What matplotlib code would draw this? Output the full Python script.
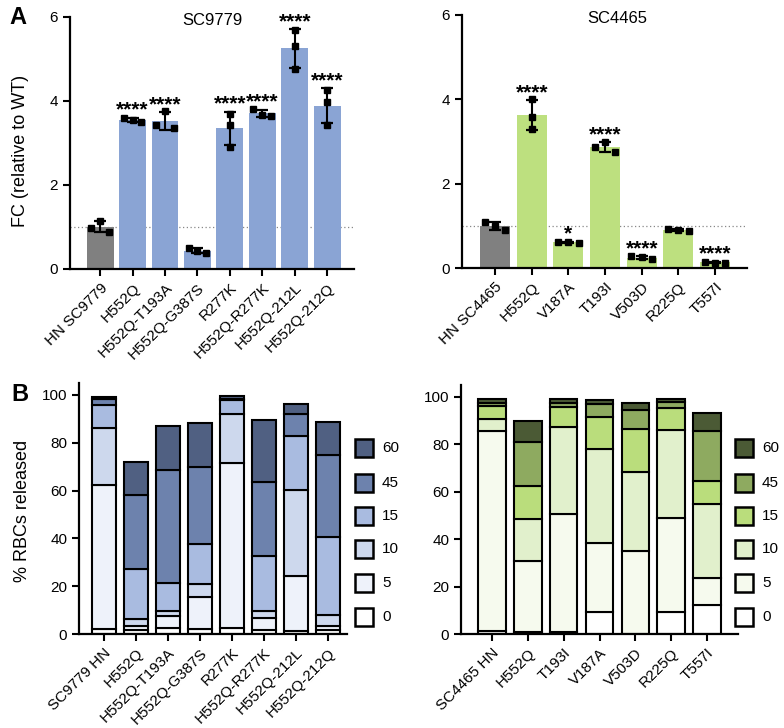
import numpy as np
import matplotlib
matplotlib.use("Agg")
import matplotlib.pyplot as plt
from matplotlib.patches import Rectangle

plt.rcParams['font.family'] = ['Liberation Sans', 'DejaVu Sans']

# ---------------- data : panel A ----------------
sc9779_labels = ["HN SC9779", "H552Q", "H552Q-T193A", "H552Q-G387S",
                 "R277K", "H552Q-R277K", "H552Q-212L", "H552Q-212Q"]
sc9779_reps = [[0.97, 1.15, 0.89],
               [3.60, 3.55, 3.51],
               [3.44, 3.76, 3.35],
               [0.50, 0.44, 0.38],
               [3.70, 3.43, 2.91],
               [3.81, 3.67, 3.65],
               [5.68, 5.31, 4.77],
               [4.26, 3.97, 3.43]]
sc9779_stars = ["", "****", "****", "", "****", "****", "****", "****"]

sc4465_labels = ["HN SC4465", "H552Q", "V187A", "T193I", "V503D", "R225Q", "T557I"]
sc4465_reps = [[1.09, 1.00, 0.91],
               [4.00, 3.57, 3.29],
               [0.62, 0.61, 0.59],
               [2.87, 2.98, 2.76],
               [0.28, 0.25, 0.21],
               [0.92, 0.91, 0.88],
               [0.15, 0.13, 0.13]]
sc4465_stars = ["", "****", "*", "****", "****", "", "****"]

# horizontal spread of replicate points (layout only: -1 left, 0 centre, 1 right)
sc9779_spread = [[-1, 0, 1], [-1, 0, 1], [-1, 0, 1], [-1, 0, 1],
                 [0, 0, 0], [-1, 0, 1], [0, 0, 0], [0, 0, 0]]
sc4465_spread = [[-1, 0, 1], [0, 0, 0], [-1, 0, 1], [-1, 0, 1],
                 [-1, 0, 1], [-1, 0, 1], [-1, 0, 1]]

# ---------------- data : panel B (cumulative % RBCs released) ----------------
time_levels = ["0", "5", "10", "15", "45", "60"]

b9779_labels = ["SC9779 HN", "H552Q", "H552Q-T193A", "H552Q-G387S",
                "R277K", "H552Q-R277K", "H552Q-212L", "H552Q-212Q"]
b9779_cum_0 = [2.1, 1.5, 2.6, 2.1, 2.6, 1.7, 1.2, 1.5]
b9779_cum_5 = [62.3, 3.3, 7.4, 15.6, 71.4, 6.8, 24.3, 3.3]
b9779_cum_10 = [86.3, 6.1, 9.5, 20.9, 92.0, 9.8, 60.3, 7.9]
b9779_cum_15 = [96.0, 27.2, 21.5, 37.5, 97.8, 32.8, 82.8, 40.7]
b9779_cum_45 = [98.2, 58.2, 68.6, 70.0, 98.5, 63.5, 92.0, 74.8]
b9779_cum_60 = [99.3, 72.1, 87.0, 88.1, 99.6, 89.5, 96.2, 88.8]

b4465_labels = ["SC4465 HN", "H552Q", "T193I", "V187A", "V503D", "R225Q", "T557I"]
b4465_cum_0 = [1.4, 1.0, 1.0, 9.1, 0.0, 9.1, 12.2]
b4465_cum_5 = [85.4, 30.7, 50.6, 38.5, 34.9, 48.8, 23.5]
b4465_cum_10 = [90.7, 48.4, 87.2, 78.2, 68.2, 86.1, 54.9]
b4465_cum_15 = [96.3, 62.6, 95.6, 91.7, 86.4, 95.2, 64.7]
b4465_cum_45 = [97.4, 80.9, 97.6, 97.0, 94.5, 98.0, 85.4]
b4465_cum_60 = [99.0, 90.0, 99.0, 98.5, 97.6, 99.0, 93.4]

blue_levels = ["#ffffff", "#eef2fa", "#cdd8ed", "#a9bbe0", "#6d82ad", "#506082"]
green_levels = ["#ffffff", "#f6faee", "#e1f0cc", "#badd7c", "#8eaa60", "#4b5a35"]

# ---------------- figure ----------------
W, H = 784, 728
fig = plt.figure(figsize=(W / 100, H / 100), dpi=100)


def axpix(x0, x1, ytop, ybot):
    return fig.add_axes([x0 / W, 1 - ybot / H, (x1 - x0) / W, (ybot - ytop) / H])


def style(ax):
    for s in ("top", "right"):
        ax.spines[s].set_visible(False)
    for s in ("left", "bottom"):
        ax.spines[s].set_linewidth(1.6)
    ax.tick_params(direction="out", length=5, width=1.5, labelsize=11, colors="black")


def fc_panel(ax, labels, reps, spread, stars, color, width, jit, title, tx):
    x = np.arange(len(labels))
    means = np.array([np.mean(r) for r in reps])
    sds = np.array([np.std(r, ddof=1) for r in reps])
    cols = ["#808080"] + [color] * (len(labels) - 1)
    ax.axhline(1, color="#888888", ls=(0, (1, 2)), lw=0.9, zorder=1)
    ax.bar(x, means, width=width, color=cols, edgecolor="none", zorder=2)
    ax.errorbar(x, means, yerr=sds, fmt="none", ecolor="black", elinewidth=1.5,
                capsize=4, capthick=1.6, zorder=3)
    for i, (r, sp) in enumerate(zip(reps, spread)):
        ax.plot(i + np.array(sp) * jit, r, "s", color="black", ms=4.5, zorder=4)
        if stars[i]:
            ax.annotate(stars[i], (i, means[i] + sds[i]), xytext=(0, 1.5),
                        textcoords="offset points", ha="center", va="baseline",
                        fontsize=15, fontweight="bold", annotation_clip=False)
    ax.set_ylim(0, 6)
    ax.set_yticks([0, 2, 4, 6])
    ax.set_xticks(x)
    ax.set_xticklabels(labels, rotation=45, ha="right", rotation_mode="anchor")
    ax.text(tx, 0.985, title, transform=ax.transAxes, ha="center", va="center",
            fontsize=12)
    style(ax)


ax1 = axpix(70, 354, 17, 269)
fc_panel(ax1, sc9779_labels, sc9779_reps, sc9779_spread, sc9779_stars,
         "#8aa4d4", 0.83, 0.27, "SC9779", 0.50)
ax1.set_xlim(-0.93, 7.83)
ax1.set_ylabel("FC (relative to WT)", fontsize=13)
ax1.yaxis.set_label_coords(-0.145, 0.47)

ax2 = axpix(462, 747, 15, 268)
fc_panel(ax2, sc4465_labels, sc4465_reps, sc4465_spread, sc4465_stars,
         "#bde07f", 0.82, 0.28, "SC4465", 0.545)
ax2.set_xlim(-0.9, 6.87)


def rbc_panel(ax, labels, cums, colors, width, leg_x):
    x = np.arange(len(labels))
    prev = np.zeros(len(labels))
    for c, col in zip(cums, colors):
        c = np.array(c)
        ax.bar(x, c - prev, bottom=prev, width=width, color=col,
               edgecolor="black", linewidth=1.5, zorder=2)
        prev = c
    ax.set_ylim(0, 105)
    ax.set_yticks([0, 20, 40, 60, 80, 100])
    ax.set_xticks(x)
    ax.set_xticklabels(labels, rotation=45, ha="right", rotation_mode="anchor")
    style(ax)
    # legend (top entry = last level)
    ycs = [448, 483, 516, 549, 583, 617]
    for lab, col, yc in zip(time_levels[::-1], colors[::-1], ycs):
        fig.add_artist(Rectangle((leg_x / W, 1 - (yc + 9) / H), 18 / W, 18 / H,
                                 transform=fig.transFigure, facecolor=col,
                                 edgecolor="black", linewidth=1.8))
        fig.text((leg_x + 27) / W, 1 - yc / H, lab, fontsize=11, va="center",
                 ha="left")


ax3 = axpix(79, 347, 383, 634)
rbc_panel(ax3, b9779_labels,
          [b9779_cum_0, b9779_cum_5, b9779_cum_10, b9779_cum_15, b9779_cum_45, b9779_cum_60],
          blue_levels, 0.76, 355)
ax3.set_xlim(-0.78, 7.6)
ax3.set_ylabel("% RBCs released", fontsize=13)
ax3.yaxis.set_label_coords(-0.18, 0.49)

ax4 = axpix(461, 738, 385, 634)
rbc_panel(ax4, b4465_labels,
          [b4465_cum_0, b4465_cum_5, b4465_cum_10, b4465_cum_15, b4465_cum_45, b4465_cum_60],
          green_levels, 0.77, 735)
ax4.set_xlim(-0.87, 6.87)

fig.text(9 / W, 1 - 6 / H, "A", fontsize=17, fontweight="bold", va="top", ha="left")
fig.text(11 / W, 1 - 383 / H, "B", fontsize=17, fontweight="bold", va="top", ha="left")

fig.savefig("out.png", dpi=100)
